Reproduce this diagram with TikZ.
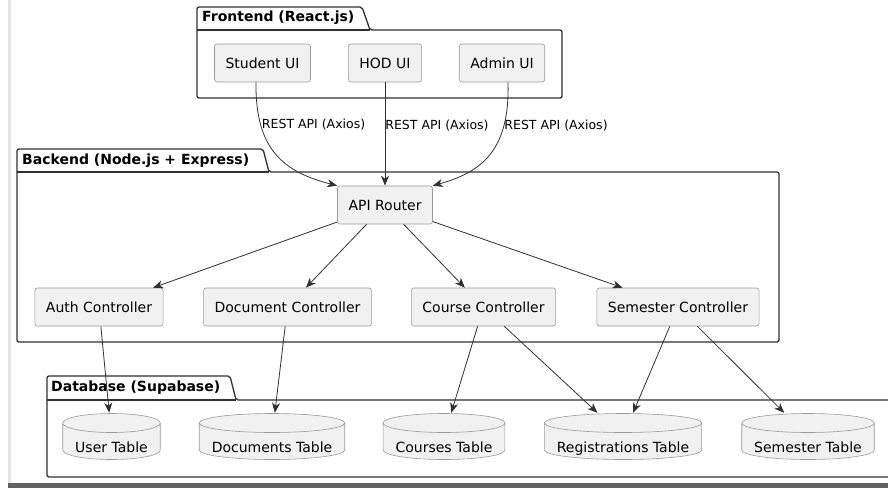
\documentclass[tikz,border=0pt]{standalone}
\usepackage{fontspec}
\setmainfont{DejaVu Sans}
\usetikzlibrary{arrows.meta, calc}

\definecolor{boxfill}{HTML}{F1F1F1}
\definecolor{boxline}{HTML}{9A9A9A}
\definecolor{pkgline}{HTML}{303030}
\definecolor{edgeline}{HTML}{303030}

\tikzset{
    comp/.style={rectangle, rounded corners=2.5pt, draw=boxline, line width=0.6pt,
        fill=boxfill, inner xsep=11pt, inner ysep=0pt, minimum height=38pt,
        font=\fontsize{14}{16}\selectfont},
    dbtable/.style={rectangle, inner xsep=13pt, inner ysep=0pt,
        text height=39pt, text depth=8pt, font=\fontsize{14}{16}\selectfont,
        path picture={
            \draw[boxline, fill=boxfill, line width=0.6pt]
                let \p1=(path picture bounding box.north west),
                    \p2=(path picture bounding box.south east),
                    \n1={(\x2-\x1)/2-0.5pt} in
                (\x1+0.5pt,\y1-10pt) -- (\x1+0.5pt,\y2+10pt)
                arc[start angle=180, end angle=360, x radius=\n1, y radius=9.5pt]
                -- (\x2-0.5pt,\y1-10pt)
                arc[start angle=0, end angle=180, x radius=\n1, y radius=9.5pt]
                -- cycle
                (\x1+0.5pt,\y1-10pt)
                arc[start angle=180, end angle=360, x radius=\n1, y radius=9.5pt];
        }},
    pkg/.style={draw=pkgline, line width=1.3pt, rounded corners=2pt},
    pkgtitle/.style={anchor=west, inner sep=0pt, font=\fontsize{14}{16}\selectfont\bfseries},
    flow/.style={draw=edgeline, line width=0.8pt,
        -{Stealth[length=10pt, width=8pt, inset=3pt]}},
    rest/.style={anchor=west, inner sep=1pt, font=\fontsize{12.5}{14}\selectfont}
}

\begin{document}
\begin{tikzpicture}[x=1pt, y=-1pt]
    \path[use as bounding box, clip] (0,0) rectangle (888,488);

    % screenshot shadow
    \fill[black!10] (8,0) rectangle (11,483);
    \fill[black!62] (8,483) rectangle (888,488);

    % packages
    \draw[pkg] (197,98) -- (197,7) -- (362,7) -- (370,30) -- (562,30) -- (562,98) -- cycle;
    \draw[pkg] (197,30) -- (370,30);
    \node[pkgtitle] (fronttitle) at (202,18) {Frontend (React.js)};

    \draw[pkg] (17,342) -- (17,149) -- (263,149) -- (269,172) -- (779,172) -- (779,342) -- cycle;
    \draw[pkg] (17,172) -- (269,172);
    \node[pkgtitle] (backtitle) at (22,160.5) {Backend (Node.js + Express)};

    \draw[pkg] (47,477) -- (47,376) -- (230,376) -- (236,400) -- (900,400) -- (900,477) -- cycle;
    \draw[pkg] (47,400) -- (236,400);
    \node[pkgtitle] (dbtitle) at (51,387.5) {Database (Supabase)};

    % frontend
    \node[comp] at (262.5,63)   (studentui)  {Student UI};
    \node[comp] at (385,63)     (hodui)      {HOD UI};
    \node[comp] at (502,63)     (adminui)    {Admin UI};

    % backend
    \node[comp] at (385,205)    (router)     {API Router};
    \node[comp] at (99,307)     (authctrl)   {Auth Controller};
    \node[comp] at (287.5,307)  (docctrl)    {Document Controller};
    \node[comp] at (483.5,307)  (coursectrl) {Course Controller};
    \node[comp] at (678,307)    (semctrl)    {Semester Controller};

    % database
    \node[dbtable] at (111.5,436.5) (usertab)   {User Table};
    \node[dbtable] at (272,436.5)   (doctab)    {Documents Table};
    \node[dbtable] at (444,436.5)   (coursetab) {Courses Table};
    \node[dbtable] at (623,436.5)   (regtab)    {Registrations Table};
    \node[dbtable] at (808,436.5)   (semtab)    {Semester Table};

    \draw[flow] (studentui.south -| 256,0) .. controls (255,150) and (284,172) .. (router.north west)
        node[rest, pos=0.245] {REST API (Axios)};
    \draw[flow] (hodui) -- (router)
        node[rest, pos=0.415, xshift=-1pt] {REST API (Axios)};
    \draw[flow] (adminui.south -| 508,0) .. controls (510,150) and (482,172) .. (router.north east)
        node[rest, pos=0.25, xshift=-1pt] {REST API (Axios)};

    \draw[flow] (router) -- (authctrl);
    \draw[flow] (router) -- (docctrl);
    \draw[flow] (router) -- (coursectrl);
    \draw[flow] (router) -- (semctrl);

    \draw[flow] (authctrl) -- (usertab);
    \draw[flow] (docctrl) -- (doctab);
    \draw[flow] (coursectrl) -- (coursetab);
    \draw[flow] (coursectrl) -- (regtab);
    \draw[flow] (semctrl) -- (regtab);
    \draw[flow] (semctrl) -- (semtab);
\end{tikzpicture}
\end{document}
